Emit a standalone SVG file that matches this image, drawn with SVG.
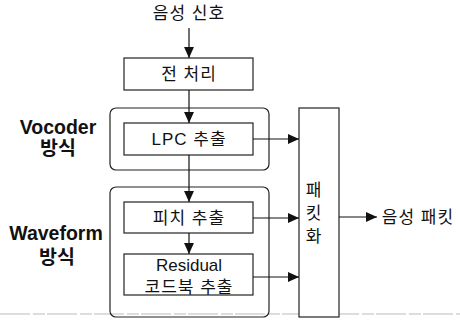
<svg xmlns="http://www.w3.org/2000/svg" width="460" height="321" viewBox="0 0 460 321">
<defs>
<marker id="ah" viewBox="0 0 10 10" refX="10" refY="5" markerWidth="11" markerHeight="11" markerUnits="userSpaceOnUse" orient="auto">
<path d="M0,0.5 L10,5 L0,9.5 z" fill="#111"/>
</marker>
<style>
.box{fill:#fff;stroke:#222;stroke-width:1.2}
.grp{fill:none;stroke:#222;stroke-width:1.2}
.t{font-family:"Liberation Sans","Noto Sans CJK KR",sans-serif;font-size:17px;letter-spacing:1px;fill:#111;text-anchor:middle;dominant-baseline:central}
.lbl{font-family:"Liberation Sans","Noto Sans CJK KR",sans-serif;font-size:19.5px;font-weight:bold;fill:#111;text-anchor:middle;dominant-baseline:central}
.c{stroke:#111;stroke-width:1.2;fill:none;marker-end:url(#ah)}
</style>
</defs>
<rect width="460" height="321" fill="#fff"/>
<line x1="0" y1="314" x2="460" y2="314" stroke="#bbb" stroke-width="1" stroke-dasharray="30 3 12 2"/>
<g id="vocoder-group">
<rect class="grp" x="110" y="108" width="159" height="62" rx="6"/>
<text class="lbl" x="58" y="127">Vocoder</text>
<text class="lbl" x="58" y="148">방식</text>
</g>
<g id="waveform-group">
<rect class="grp" x="110" y="187" width="159" height="130" rx="6"/>
<text class="lbl" x="56" y="233">Waveform</text>
<text class="lbl" x="57" y="257">방식</text>
</g>
<g id="input">
<text class="t" x="189" y="13">음성 신호</text>
</g>
<g id="preprocess">
<rect class="box" x="124" y="58" width="129" height="32"/>
<text class="t" x="189" y="74">전 처리</text>
</g>
<g id="lpc">
<rect class="box" x="124" y="123" width="129" height="32"/>
<text class="t" x="189" y="139">LPC 추출</text>
</g>
<g id="pitch">
<rect class="box" x="124" y="202" width="129" height="31"/>
<text class="t" x="189" y="218">피치 추출</text>
</g>
<g id="residual">
<rect class="box" x="124" y="254" width="129" height="41"/>
<text class="t" x="189" y="265" style="font-size:17px;letter-spacing:0">Residual</text>
<text class="t" x="189" y="287">코드북 추출</text>
</g>
<g id="packetize">
<rect class="box" x="299" y="108" width="40" height="209"/>
<text class="t" x="314" y="190">패</text>
<text class="t" x="314" y="213">킷</text>
<text class="t" x="314" y="236">화</text>
</g>
<g id="output">
<text class="t" x="418" y="217">음성 패킷</text>
</g>
<g id="connectors">
<line class="c" x1="189" y1="28" x2="189" y2="58"/>
<line class="c" x1="189" y1="90" x2="189" y2="123"/>
<line class="c" x1="189" y1="155" x2="189" y2="202"/>
<line class="c" x1="189" y1="233" x2="189" y2="254"/>
<line class="c" x1="253" y1="139" x2="299" y2="139"/>
<line class="c" x1="253" y1="218" x2="299" y2="218"/>
<line class="c" x1="253" y1="277" x2="299" y2="277"/>
<line class="c" x1="339" y1="217" x2="377" y2="217"/>
</g>
</svg>
